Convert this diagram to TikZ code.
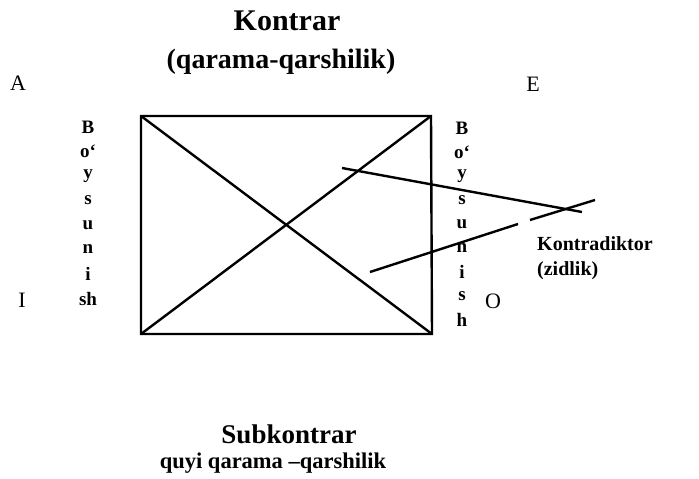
\documentclass[tikz,border=0pt]{standalone}
\usepackage{fontspec}
\setmainfont{Liberation Serif}
\begin{document}
\begin{tikzpicture}[x=1pt,y=-1pt,
  lbl/.style={font=\fontsize{22}{24}\selectfont, inner sep=0pt},
  col/.style={font=\bfseries\fontsize{19}{20}\selectfont, inner sep=0pt},
  ttl/.style={font=\bfseries\fontsize{28}{30}\selectfont, inner sep=0pt},
  sub/.style={font=\bfseries\fontsize{20}{25}\selectfont, inner sep=0pt, align=left},
  edge/.style={line width=2.4pt}]
\useasboundingbox (0,0) rectangle (699,479);
\fill[white] (0,0) rectangle (699,479);
% square of opposition
\coordinate (tl) at (141,116);
\coordinate (tr) at (431,116);
\coordinate (bl) at (141,334);
\coordinate (br) at (432,334);
\draw[edge] (tl) -- (tr) -- (br) -- (bl) -- cycle;
\draw[edge] (tl) -- (br);
\draw[edge] (bl) -- (tr);
% titles
\node[ttl, font=\bfseries\fontsize{30}{32}\selectfont] (t1) at (287,21) {Kontrar};
\node[ttl] (t2) at (281,62) {(qarama-qarshilik)};
\node[ttl, font=\bfseries\fontsize{27}{29}\selectfont] (s1) at (289,434) {Subkontrar};
\node[ttl, font=\bfseries\fontsize{22.5}{25}\selectfont] (s2) at (273,463) {quyi qarama –qarshilik};
% corner letters
\node[lbl] (A) at (18,83) {A};
\node[lbl] (E) at (533,84) {E};
\node[lbl] (I) at (22,300) {I};
\node[lbl] (O) at (493,301) {O};
% columns
\foreach \t [count=\i from 0] in {B,o‘,y,s,u,n,i,sh}
  \node[col] (L\i) at (88,127+24.5*\i) {\t};
\foreach \t [count=\i from 0] in {B,o‘,y,s,u,n,i,s,h}
  \node[col] (R\i) at (462,128+24*\i) {\t};
% contradiction label and lines
\node[sub, anchor=west] (K) at (537,258) {Kontradiktor\\(zidlik)};
\coordinate (a1) at (342,168);
\coordinate (a2) at (582,212);
\coordinate (b1) at (370,272);
\coordinate (b2) at (518,224);
\coordinate (b3) at (530,220);
\coordinate (b4) at (595,200);
\draw[edge] (a1) -- (a2);
\draw[edge] (b1) -- (b2);
\draw[edge] (b3) -- (b4);
\end{tikzpicture}
\end{document}
